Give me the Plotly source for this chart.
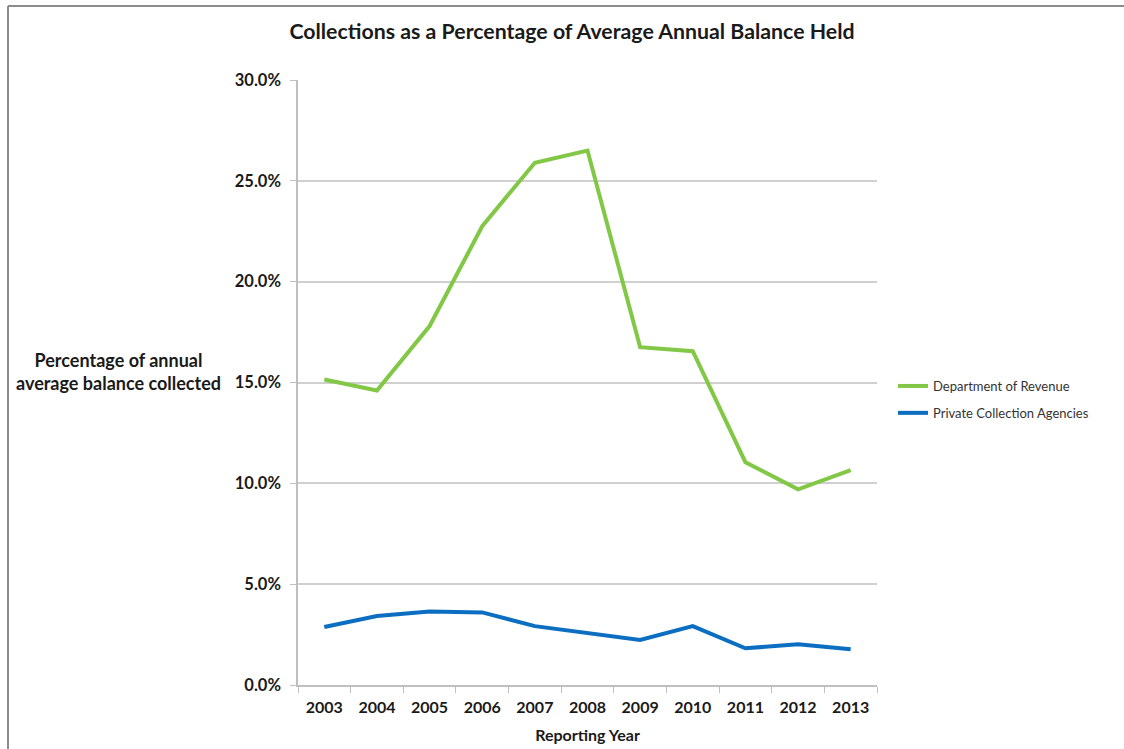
import plotly.graph_objects as go

# Reporting years and collection rates (% of average annual balance)
years = ["2003", "2004", "2005", "2006", "2007", "2008",
         "2009", "2010", "2011", "2012", "2013"]
dept_revenue = [15.15, 14.6, 17.8, 22.75, 25.9, 26.5,
                16.75, 16.55, 11.05, 9.7, 10.65]
private_agencies = [2.88, 3.42, 3.65, 3.6, 2.92, 2.58,
                    2.23, 2.92, 1.82, 2.02, 1.77]
y_ticks = [0, 5, 10, 15, 20, 25, 30]

W, H = 1124, 749
L, R, T, B = 298, 877, 80, 685  # plot area in pixels


def px(x):
    return (x - L) / (R - L)


def py(y):
    return (B - y) / (B - T)


FONT = "Lato"
INK = "#1a1a1a"

fig = go.Figure()
fig.add_trace(go.Scatter(
    x=years, y=dept_revenue, mode="lines", name="Department of Revenue",
    legendgroup="dor", line=dict(color="#82C846", width=4),
))
fig.add_trace(go.Scatter(
    x=years, y=private_agencies, mode="lines", name="Private Collection Agencies",
    legendgroup="pca", line=dict(color="#0B6EC1", width=4),
))

fig.update_layout(
    width=W, height=H,
    margin=dict(l=L, r=W - R, t=T, b=H - B, pad=0, autoexpand=False),
    paper_bgcolor="white", plot_bgcolor="white",
    font=dict(family=FONT, color=INK),
    title=dict(
        text="<b>Collections as a Percentage of Average Annual Balance Held</b>",
        xref="container", x=572 / W, xanchor="center",
        yref="container", y=1 - 32 / H, yanchor="middle",
        font=dict(size=21.3, family=FONT, color=INK),
    ),
    legend=dict(
        x=px(893), xanchor="left", y=py(399.5), yanchor="middle",
        font=dict(size=13, family=FONT, color="#333333"),
        bgcolor="rgba(0,0,0,0)", tracegroupgap=7, itemwidth=30,
        traceorder="grouped",
    ),
    xaxis=dict(
        type="category", range=[-0.5, 10.5], automargin=False,
        tickmode="array", tickvals=years, ticktext=[f"<b>{y}</b>" for y in years],
        tickson="boundaries", ticks="outside", ticklen=6, tickcolor="#BFBFBF",
        ticklabelstandoff=7,
        showgrid=False, showline=True, linecolor="#BFBFBF", linewidth=1.5,
        tickfont=dict(size=16, family=FONT, color=INK),
        title=dict(text="<b>Reporting Year</b>", standoff=15,
                   font=dict(size=16, family=FONT, color=INK)),
        fixedrange=True,
    ),
    yaxis=dict(
        range=[0, 30], automargin=False, tickmode="array", tickvals=y_ticks,
        ticktext=[f"<b>{v:.1f}%</b>" for v in y_ticks],
        ticks="outside", ticklen=6, tickcolor="#BFBFBF",
        ticklabelstandoff=6,
        showgrid=True, gridcolor="#D0D0D0", gridwidth=1.5,
        showline=True, linecolor="#BFBFBF", linewidth=1.5, zeroline=False,
        tickfont=dict(size=16.5, family=FONT, color=INK),
        fixedrange=True,
    ),
    annotations=[dict(
        text="<b>Percentage of annual<br>average balance collected</b>",
        x=px(118), y=py(371), xref="paper", yref="paper",
        xanchor="center", yanchor="middle", align="center", showarrow=False,
        font=dict(size=18, family=FONT, color=INK),
    )],
    shapes=[
        dict(type="line", xref="paper", yref="paper",
             x0=px(8), x1=px(W + 5), y0=py(6), y1=py(6),
             line=dict(color="#8C8C8C", width=2)),
        dict(type="line", xref="paper", yref="paper",
             x0=px(8), x1=px(8), y0=py(6), y1=py(H + 5),
             line=dict(color="#8C8C8C", width=2)),
    ],
)

fig.write_html("out.html", config={"displayModeBar": False})
